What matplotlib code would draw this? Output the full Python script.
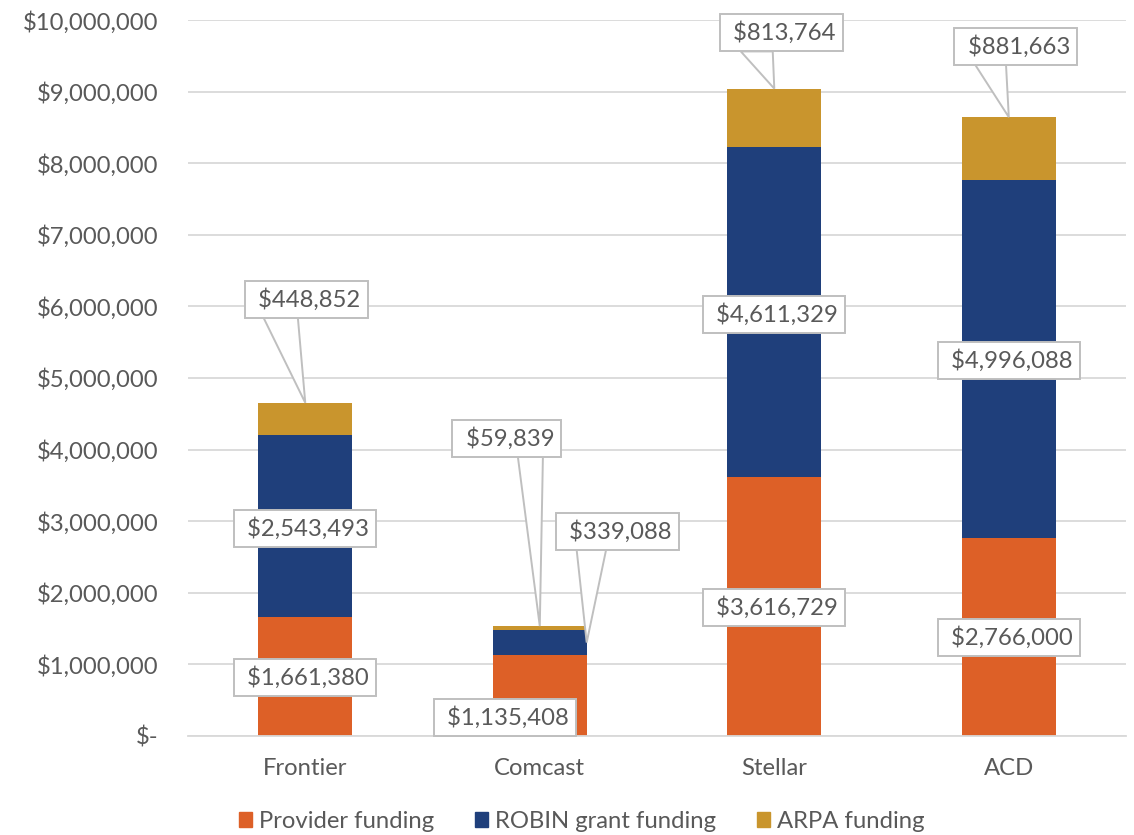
import matplotlib
matplotlib.use("Agg")
import matplotlib.pyplot as plt
from matplotlib.patches import Patch, Polygon
from matplotlib.ticker import FuncFormatter

plt.rcParams["font.family"] = ["Lato", "DejaVu Sans"]

# data
categories = ["Frontier", "Comcast", "Stellar", "ACD"]
provider = [1661380, 1135408, 3616729, 2766000]
robin = [2543493, 339088, 4611329, 4996088]
arpa = [448852, 59839, 813764, 881663]

series_names = ["Provider funding", "ROBIN grant funding", "ARPA funding"]
colors = ["#DD6027", "#1F3F7B", "#C9952D"]
TEXT = "#595959"
GRID = "#D9D9D9"
EDGE = "#BFBFBF"
FS = 17.2

# label placement, keyed by (bar, series):
# (x offset of box centre, box centre y in $, leader) where leader is
# (tip x offset, tip y as fraction of segment, base start/end as fraction of box width)
label_layout = {
    (0, 0): (0.0, 0.82e6, None), (0, 1): (0.0, 2.90e6, None),
    (0, 2): (0.005, 6.10e6, (0.0, 1.0, 0.15, 0.43)),
    (1, 0): (-0.15, 0.26e6, None),
    (1, 1): (0.33, 2.86e6, (0.2, 0.5, 0.17, 0.41)),
    (1, 2): (-0.14, 4.16e6, (0.0, 1.0, 0.60, 0.83)),
    (2, 0): (0.0, 1.80e6, None), (2, 1): (0.0, 5.89e6, None),
    (2, 2): (0.03, 9.82e6, (0.0, 1.0, 0.17, 0.43)),
    (3, 0): (0.0, 1.38e6, None), (3, 1): (0.0, 5.25e6, None),
    (3, 2): (0.03, 9.63e6, (0.0, 1.0, 0.17, 0.42)),
}

fig = plt.figure(figsize=(11.34, 8.35), dpi=100)
ax = fig.add_axes([0.1658, 0.1186, 0.8272, 0.8574])

x = list(range(len(categories)))
width = 0.4
bottoms = [0] * len(categories)
stack = [provider, robin, arpa]
leaders = []
for s, (vals, name, col) in enumerate(zip(stack, series_names, colors)):
    ax.bar(x, vals, width, bottom=bottoms, color=col, label=name, zorder=2)
    for i, v in enumerate(vals):
        dx, ly, lead = label_layout[(i, s)]
        bbox = dict(boxstyle="square,pad=0.3", fc="white", ec=EDGE, lw=1.4)
        t = ax.text(i + dx, ly, f" ${v:,.0f}", ha="center", va="center",
                    fontsize=FS, color=TEXT, bbox=bbox, zorder=4)
        if lead is not None:
            tip = (i + lead[0], bottoms[i] + v * lead[1])
            leaders.append((t, tip, lead[2], lead[3]))
    bottoms = [b + v for b, v in zip(bottoms, vals)]

ax.set_xlim(-0.5, 3.5)
ax.set_ylim(0, 10_000_000)
ax.set_yticks(range(0, 10_000_001, 1_000_000))
ax.yaxis.set_major_formatter(FuncFormatter(lambda v, p: "$-" if v == 0 else f"${v:,.0f}"))
ax.set_xticks(x)
ax.set_xticklabels(categories)
ax.tick_params(axis="both", length=0, labelsize=FS, labelcolor=TEXT)
ax.tick_params(axis="y", pad=21.5)
ax.tick_params(axis="x", pad=16)
ax.grid(axis="y", color=GRID, lw=1.3, zorder=0)
ax.set_axisbelow(True)
for sp in ["top", "right", "left"]:
    ax.spines[sp].set_visible(False)
ax.spines["bottom"].set_color(GRID)
ax.spines["bottom"].set_linewidth(1.3)

# callout wedges: base sits on the bottom edge of the label box
fig.canvas.draw()
inv = ax.transData.inverted()
for t, tip, f0, f1 in leaders:
    ext = t.get_bbox_patch().get_window_extent()
    b0 = (ext.x0 + f0 * ext.width, ext.y0)
    b1 = (ext.x0 + f1 * ext.width, ext.y0)
    tip_disp = ax.transData.transform(tip)
    pts = inv.transform([b0, tuple(tip_disp), b1])
    ax.add_patch(Polygon(pts, closed=True, fc="white", ec=EDGE, lw=1.4, zorder=3,
                         joinstyle="miter"))

handles = [Patch(color=c, label=n) for c, n in zip(colors, series_names)]
fig.legend(handles=handles, loc="lower center", bbox_to_anchor=(0.513, -0.022), ncol=3,
           frameon=False, fontsize=FS, labelcolor=TEXT, handlelength=0.55,
           handleheight=0.55, handletextpad=0.3, columnspacing=1.7)

fig.savefig("out.png", dpi=100)
